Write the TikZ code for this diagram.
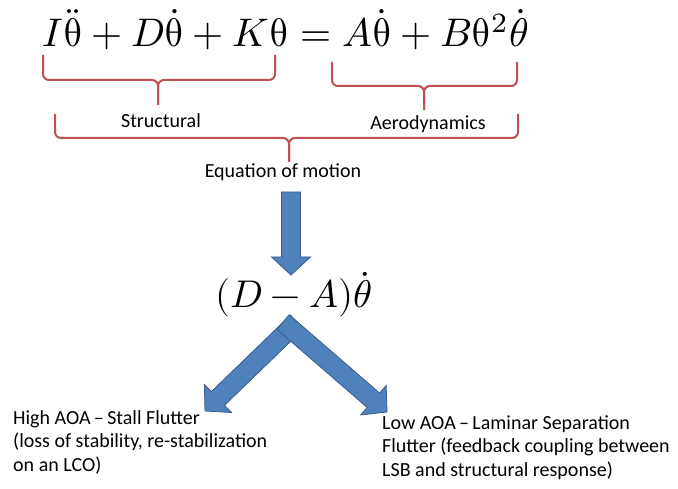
\documentclass[tikz,border=0pt]{standalone}
\usepackage{fontspec}
\usepackage{unicode-math}
\usepackage{graphicx}
\setmainfont{Carlito}
\setmathfont{Latin Modern Math}
\usetikzlibrary{calc}
\definecolor{bracered}{RGB}{192,80,77}
\definecolor{arrowfill}{RGB}{79,129,189}
\definecolor{arrowline}{RGB}{56,93,138}
\tikzset{
  bracestyle/.style={draw=bracered, line width=2pt, rounded corners=6pt},
  blockstyle/.style={fill=arrowfill, draw=arrowline, line width=0.8pt, line join=miter},
  lbl/.style={inner sep=0pt, text=black, font=\fontsize{20}{23.5}\selectfont},
}
% block arrow from #1 to #2
\newcommand{\blockarrow}[2]{%
  \coordinate (hb) at ($(#2)!18pt!(#1)$);
  \filldraw[blockstyle]
    ($(#1)!9.5pt!90:(#2)$) -- ($(hb)!9.5pt!90:(#2)$) -- ($(hb)!19.5pt!90:(#2)$)
    -- (#2) -- ($(hb)!19.5pt!-90:(#2)$) -- ($(hb)!9.5pt!-90:(#2)$)
    -- ($(#1)!9.5pt!-90:(#2)$) -- cycle;}
% horizontal brace: x1, x2, xc, ytop, ymid, ytip
\newcommand{\hbrace}[6]{%
  \draw[bracestyle] (#1,#4) -- (#1,#5) -- (#3,#5) -- (#3,#6);
  \draw[bracestyle] (#2,#4) -- (#2,#5) -- (#3,#5) -- (#3,#6);}
\begin{document}
\begin{tikzpicture}[x=1pt, y=-1pt]
\fill[white] (0,0) rectangle (678,489);
\useasboundingbox (0,0) rectangle (678,489);

% equation
\node[anchor=base west, inner sep=0pt] (eq) at (42,47)
  {\resizebox{486pt}{!}{$I\ddot{\symup{\theta}}+D\dot{\symup{\theta}}+K\symup{\theta}=A\dot{\symup{\theta}}+B\symup{\theta}^2\dot{\theta}$}};

% braces
\hbrace{43}{275}{158}{55}{80}{105}
\hbrace{332}{517}{424}{62}{86}{110}
\hbrace{55}{518}{289}{114}{138}{162}

% labels
\node[lbl, anchor=base] (struct) at (161,128) {Structural};
\node[lbl, anchor=base] (aero) at (428,130) {Aerodynamics};
\node[lbl, anchor=base] (eom) at (283,178) {Equation of motion};

% expression
\node[anchor=base west, inner sep=0pt] (expr) at (215,308)
  {\resizebox{157pt}{!}{$(D-A)\dot{\theta}$}};

% down arrow
\coordinate (d0) at (291,192);
\coordinate (d1) at (291,275);
\blockarrow{d0}{d1}

% bottom arrows
\coordinate (l0) at (297,322);
\coordinate (l1) at (205,411);
\coordinate (r0) at (283,322);
\coordinate (r1) at (387,412);
\blockarrow{l0}{l1}
\blockarrow{r0}{r1}

% bottom texts
\node[lbl, anchor=north west, align=left] (high) at (13,410)
  {High AOA\,–\,Stall Flutter\\(loss of stability, re-stabilization\\on an LCO)};
\node[lbl, anchor=north west, align=left] (low) at (382,415)
  {Low AOA\,–\,Laminar Separation\\Flutter (feedback coupling between\\LSB and structural response)};
\end{tikzpicture}
\end{document}
